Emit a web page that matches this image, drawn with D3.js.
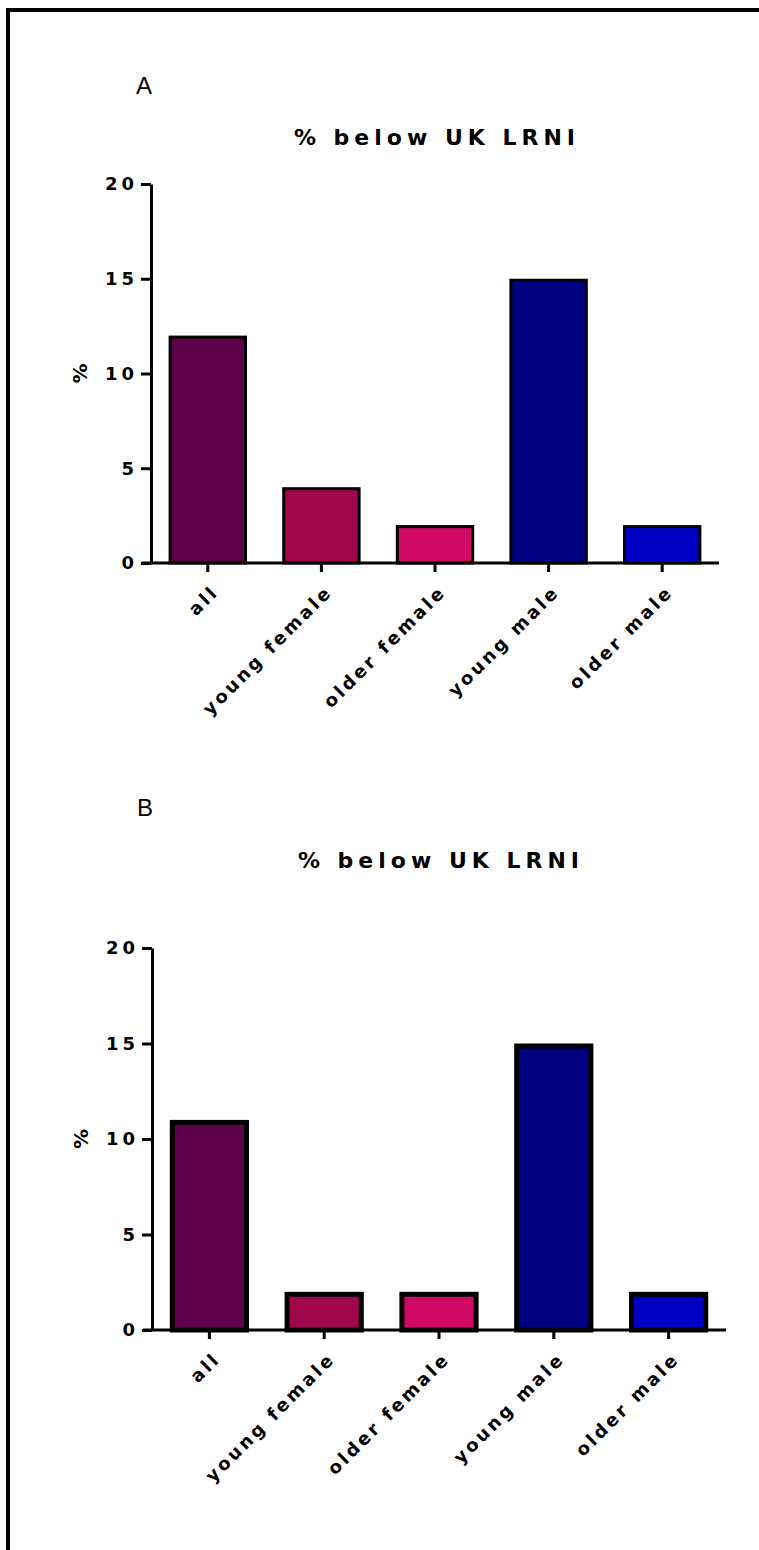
<!DOCTYPE html>
<html>
<head>
<meta charset="utf-8">
<script src="https://cdn.jsdelivr.net/npm/d3@7"></script>
<style>
  body { margin: 0; background: #fff; }
  svg { display: block; }
</style>
</head>
<body>
<div id="chart"></div>
<script>
const categories = ['all', 'young female', 'older female', 'young male', 'older male'];
const valuesA = [12, 4, 2, 15, 2];
const valuesB = [11, 2, 2, 15, 2];
const yTicks = [0, 5, 10, 15, 20];
const colors = ['#5E004A', '#A0064A', '#D00A64', '#000080', '#0000C4'];
const title = '% below UK LRNI';

const width = 759;
const height = 1550;

const svg = d3.select('#chart').append('svg')
  .attr('width', width)
  .attr('height', height);

// frame: left + top border only
svg.append('path')
  .attr('d', 'M8,1550 V10 H759')
  .attr('fill', 'none')
  .attr('stroke', '#000')
  .attr('stroke-width', 4);

const font = 'Arial, "Liberation Sans", sans-serif';
const boldFont = '"DejaVu Sans", Arial, sans-serif';

function drawPanel(letter, values, p) {
  const x = d3.scaleBand()
    .domain(categories)
    .range([p.left, p.right])
    .paddingInner(0.31)
    .paddingOuter(0.155);

  const y = d3.scaleLinear()
    .domain([0, 20])
    .range([p.bottom, p.top]);

  const g = svg.append('g');

  g.append('text')
    .attr('x', p.left - 15)
    .attr('y', p.letterY)
    .attr('font-family', font)
    .attr('font-size', '24px')
    .text(letter);

  g.append('text')
    .attr('x', (p.left + p.right) / 2 + 2)
    .attr('y', p.titleY)
    .attr('text-anchor', 'middle')
    .attr('font-family', boldFont)
    .attr('font-weight', 'bold')
    .attr('font-size', '22px')
    .attr('letter-spacing', '5px')
    .text(title);

  // bars
  g.selectAll('rect.bar')
    .data(values)
    .enter().append('rect')
      .attr('class', 'bar')
      .attr('x', (d, i) => x(categories[i]) + p.barStroke / 2)
      .attr('y', d => y(d) + p.barStroke / 2)
      .attr('width', x.bandwidth() - p.barStroke)
      .attr('height', d => y(0) - y(d) - p.barStroke / 2)
      .attr('fill', (d, i) => colors[i])
      .attr('stroke', '#000')
      .attr('stroke-width', p.barStroke);

  // y axis
  const yAxis = g.append('g')
    .attr('transform', `translate(${p.left},0)`)
    .call(d3.axisLeft(y).tickValues(yTicks).tickSize(10).tickPadding(3).tickSizeOuter(0));
  yAxis.select('.domain').attr('stroke-width', 3);
  yAxis.selectAll('.tick line').attr('stroke-width', 3);
  yAxis.selectAll('.tick text')
    .attr('font-family', boldFont)
    .attr('font-weight', 'bold')
    .attr('font-size', '18px')
    .attr('letter-spacing', '4px')
    .attr('fill', '#000');

  g.append('text')
    .attr('transform', `translate(${p.left - 64},${(p.top + p.bottom) / 2}) rotate(-90)`)
    .attr('text-anchor', 'middle')
    .attr('font-family', boldFont)
    .attr('font-weight', 'bold')
    .attr('font-size', '20px')
    .text('%');

  // x axis
  const xAxis = g.append('g')
    .attr('transform', `translate(0,${p.bottom})`)
    .call(d3.axisBottom(x).tickSize(9).tickSizeOuter(0));
  xAxis.select('.domain')
    .attr('d', `M${p.left - 9},0H${p.right}`)
    .attr('stroke-width', 3);
  xAxis.selectAll('.tick line').attr('stroke-width', 3);
  xAxis.selectAll('.tick text')
    .attr('font-family', boldFont)
    .attr('font-weight', 'bold')
    .attr('font-size', '18px')
    .attr('letter-spacing', '3px')
    .attr('fill', '#000')
    .attr('text-anchor', 'end')
    .attr('dy', null)
    .attr('transform', 'translate(12,30) rotate(-45)')
    .attr('y', 0);
}

drawPanel('A', valuesA, { left: 151, right: 719, top: 184, bottom: 563, letterY: 94, titleY: 145, barStroke: 3 });
drawPanel('B', valuesB, { left: 152, right: 726, top: 948, bottom: 1330, letterY: 816, titleY: 868, barStroke: 5 });
</script>
</body>
</html>
